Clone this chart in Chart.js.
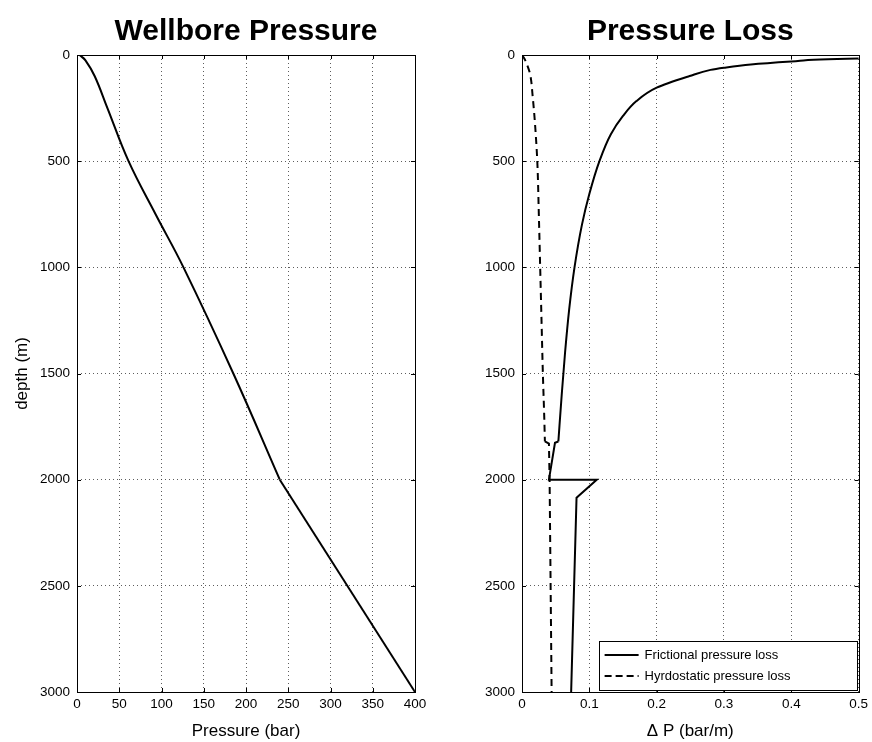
<!DOCTYPE html>
<html>
<head>
<meta charset="utf-8">
<script src="https://cdn.jsdelivr.net/npm/chart.js@4.4.0/dist/chart.umd.min.js"></script>
<style>
    html, body { margin: 0; padding: 0; background: #fff; }
    #wrap { position: relative; width: 872px; height: 742px; }
    .box { position: absolute; top: 0; width: 436px; height: 742px; }
    #left { left: 0; }
    #right { left: 436px; }
</style>
</head>
<body>
<div id="wrap">
    <div class="box" id="left"><canvas id="pressureChart"></canvas></div>
    <div class="box" id="right"><canvas id="lossChart"></canvas></div>
</div>
<script>
// Wellbore pressure profile (depth in m, pressure in bar), above and below the 2000 m kink
const wellDepthUpper = [0, 25, 100, 250, 500, 750, 1000, 1500, 2000];
const wellPressureUpper = [3, 10, 21, 36, 61, 93, 126, 185, 240];
const wellDepthLower = [2000, 3000];
const wellPressureLower = [240, 400];

// Frictional pressure loss (bar/m)
const frictionDepthUpper = [8, 16, 31, 45, 60, 70, 99, 154, 217, 287, 373, 500, 655, 800, 1000, 1200, 1400, 1600, 1820];
const frictionLossUpper = [0.8, 0.5, 0.40, 0.34, 0.30, 0.28, 0.249, 0.20, 0.17, 0.15, 0.132, 0.115, 0.10, 0.089, 0.078, 0.070, 0.064, 0.059, 0.054];
const frictionDepthLower = [1820, 1826, 2000, 2000, 2085, 3000];
const frictionLossLower = [0.054, 0.049, 0.040, 0.111, 0.081, 0.073];

// Hydrostatic pressure loss (bar/m)
const hydroDepthUpper = [0, 20, 50, 90, 200, 310, 500, 750, 1000, 1250, 1500, 1700, 1820];
const hydroLossUpper = [0.0, 0.004, 0.008, 0.012, 0.016, 0.019, 0.0227, 0.025, 0.027, 0.029, 0.031, 0.033, 0.034];
const hydroDepthLower = [1820, 1830, 2000, 3000];
const hydroLossLower = [0.034, 0.040, 0.041, 0.044];

const pressureTicks = [0, 50, 100, 150, 200, 250, 300, 350, 400];
const lossTicks = [0, 0.1, 0.2, 0.3, 0.4, 0.5];
const depthTicks = [0, 500, 1000, 1500, 2000, 2500, 3000];

const FONT = "'Liberation Sans', Arial, Helvetica, sans-serif";

function toPoints(depths, values) {
    return depths.map((d, i) => ({ x: values[i], y: d }));
}

// smooth: 'monotone', a bezier tension number, or false for straight segments
function curve(depths, values, smooth, dash) {
    return {
        data: toPoints(depths, values),
        showLine: true,
        indexAxis: 'y',
        borderColor: '#000',
        borderWidth: 2,
        borderDash: dash || [],
        pointRadius: 0,
        cubicInterpolationMode: smooth === 'monotone' ? 'monotone' : 'default',
        tension: typeof smooth === 'number' ? smooth : 0
    };
}

// Frame, inward tick marks and title, matlab style
function framePlugin(title) {
    return {
        id: 'frame',
        afterDraw(chart) {
            const ctx = chart.ctx;
            const a = chart.chartArea;
            const xs = chart.scales.x, ys = chart.scales.y;
            ctx.save();
            ctx.strokeStyle = '#000';
            ctx.lineWidth = 1;
            ctx.setLineDash([]);
            ctx.strokeRect(Math.round(a.left) + 0.5, Math.round(a.top) + 0.5,
                Math.round(a.right - a.left), Math.round(a.bottom - a.top));
            ctx.beginPath();
            xs.ticks.forEach(t => {
                const px = Math.round(xs.getPixelForValue(t.value)) + 0.5;
                ctx.moveTo(px, a.bottom); ctx.lineTo(px, a.bottom - 4);
                ctx.moveTo(px, a.top); ctx.lineTo(px, a.top + 4);
            });
            ys.ticks.forEach(t => {
                const py = Math.round(ys.getPixelForValue(t.value)) + 0.5;
                ctx.moveTo(a.left, py); ctx.lineTo(a.left + 4, py);
                ctx.moveTo(a.right, py); ctx.lineTo(a.right - 4, py);
            });
            ctx.stroke();
            ctx.fillStyle = '#000';
            ctx.font = 'bold 30px ' + FONT;
            ctx.textAlign = 'center';
            ctx.textBaseline = 'alphabetic';
            ctx.fillText(title, (a.left + a.right) / 2, 40);
            ctx.restore();
        }
    };
}

const legendPlugin = {
    id: 'boxLegend',
    afterDraw(chart) {
        const ctx = chart.ctx;
        const a = chart.chartArea;
        const w = 258, h = 49;
        const x0 = a.right - w - 2, y0 = a.bottom - h - 2;
        ctx.save();
        ctx.fillStyle = '#fff';
        ctx.fillRect(x0, y0, w, h);
        ctx.strokeStyle = '#000';
        ctx.lineWidth = 1;
        ctx.strokeRect(Math.round(x0) + 0.5, Math.round(y0) + 0.5, w, h);
        const rows = [
            { label: 'Frictional pressure loss', dash: [] },
            { label: 'Hyrdostatic pressure loss', dash: [7, 4] }
        ];
        ctx.font = '13px ' + FONT;
        ctx.textBaseline = 'middle';
        ctx.textAlign = 'left';
        rows.forEach((r, i) => {
            const cy = y0 + 14 + i * 21;
            ctx.beginPath();
            ctx.setLineDash(r.dash);
            ctx.lineWidth = 2;
            ctx.moveTo(x0 + 6, cy);
            ctx.lineTo(x0 + 40, cy);
            ctx.stroke();
            ctx.setLineDash([]);
            ctx.fillStyle = '#000';
            ctx.fillText(r.label, x0 + 46, cy);
        });
        ctx.restore();
    }
};

function axisX(min, max, ticks, titleText) {
    return {
        type: 'linear',
        position: 'bottom',
        min: min,
        max: max,
        afterBuildTicks: s => { s.ticks = ticks.map(v => ({ value: v })); },
        ticks: {
            color: '#000',
            font: { family: FONT, size: 13.5 },
            padding: 4,
            maxRotation: 0,
            callback: v => String(v)
        },
        grid: { color: '#333', lineWidth: 0.8, drawTicks: false },
        border: { display: false, dash: [1, 3] },
        title: {
            display: true,
            text: titleText,
            color: '#000',
            font: { family: FONT, size: 17 },
            padding: { top: 7, bottom: 0 }
        },
        afterFit: s => { s.height = 50; }
    };
}

function axisY(showTitle, width) {
    return {
        type: 'linear',
        reverse: true,
        min: 0,
        max: 3000,
        afterBuildTicks: s => { s.ticks = depthTicks.map(v => ({ value: v })); },
        ticks: {
            color: '#000',
            font: { family: FONT, size: 13.5 },
            padding: 7,
            callback: v => String(v)
        },
        grid: { color: '#333', lineWidth: 0.8, drawTicks: false },
        border: { display: false, dash: [1, 3] },
        title: {
            display: showTitle,
            text: 'depth (m)',
            color: '#000',
            font: { family: FONT, size: 17 },
            padding: { top: 12, bottom: 0 }
        },
        afterFit: s => { s.width = width; }
    };
}

const baseOptions = {
    responsive: true,
    maintainAspectRatio: false,
    animation: false,
    plugins: {
        legend: { display: false },
        tooltip: { enabled: false }
    }
};

// Left panel: wellbore pressure
new Chart(document.getElementById('pressureChart').getContext('2d'), {
    type: 'scatter',
    data: {
        datasets: [
            curve(wellDepthUpper, wellPressureUpper, 0.4),
            curve(wellDepthLower, wellPressureLower, false)
        ]
    },
    options: Object.assign({}, baseOptions, {
        layout: { padding: { top: 55, right: 21, left: 0, bottom: 0 } },
        scales: {
            x: axisX(0, 400, pressureTicks, 'Pressure (bar)'),
            y: axisY(true, 77)
        }
    }),
    plugins: [framePlugin('Wellbore Pressure')]
});

// Right panel: pressure loss
new Chart(document.getElementById('lossChart').getContext('2d'), {
    type: 'scatter',
    data: {
        datasets: [
            curve(frictionDepthUpper, frictionLossUpper, 'monotone'),
            curve(frictionDepthLower, frictionLossLower, false),
            curve(hydroDepthUpper, hydroLossUpper, 'monotone', [7, 5]),
            curve(hydroDepthLower, hydroLossLower, false, [7, 5])
        ]
    },
    options: Object.assign({}, baseOptions, {
        layout: { padding: { top: 55, right: 12, left: 0, bottom: 0 } },
        scales: {
            x: axisX(0, 0.5, lossTicks, '\u0394 P (bar/m)'),
            y: axisY(false, 86)
        }
    }),
    plugins: [framePlugin('Pressure Loss'), legendPlugin]
});
</script>
</body>
</html>
